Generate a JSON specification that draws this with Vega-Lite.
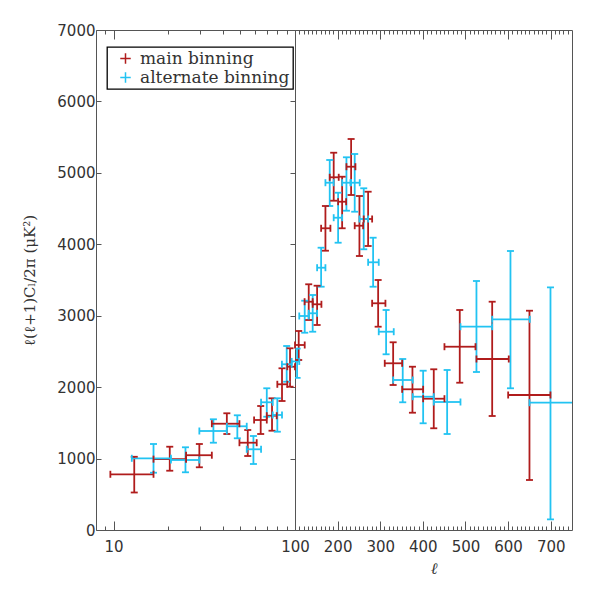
{
  "$schema": "https://vega.github.io/schema/vega-lite/v6.json",
  "autosize": {"type": "pad"},
  "padding": {"left": 22, "top": 22, "right": 5, "bottom": 5},
  "background": "white",
  "bounds": "flush",
  "config": {
    "view": {"stroke": "#555", "strokeWidth": 1},
    "axis": {"labelFont": "DejaVu Sans", "labelFontSize": 15, "labelColor": "#333", "tickColor": "#555", "tickWidth": 1, "domain": false, "grid": false, "titleFontWeight": "normal", "titleColor": "#333", "labelFlush": false, "labelOverlap": false},
    "legend": {"orient": "none", "legendX": 11, "legendY": 17, "strokeColor": "#000", "strokeWidth": 1.3, "fillColor": "white", "padding": 3, "symbolOffset": 7, "cornerRadius": 0, "labelFont": "DejaVu Serif", "labelFontSize": 17, "labelColor": "#333", "symbolType": "M-1,0L1,0M0,-1L0,1", "symbolSize": 110, "symbolStrokeWidth": 1.5, "rowPadding": 1, "labelOffset": 6, "title": null}
  },
  "data": {"name": "pts", "values": [
    {"s": "main binning", "l": 13.0, "llo": 9.6, "lhi": 16.6, "v": 780, "lo": 525, "hi": 1025},
    {"s": "main binning", "l": 20.4, "llo": 16.6, "lhi": 25.1, "v": 992, "lo": 830, "hi": 1166},
    {"s": "main binning", "l": 29.7, "llo": 25.1, "lhi": 34.8, "v": 1047, "lo": 878, "hi": 1204},
    {"s": "main binning", "l": 42.1, "llo": 34.8, "lhi": 49.4, "v": 1488, "lo": 1344, "hi": 1634},
    {"s": "main binning", "l": 54.9, "llo": 49.4, "lhi": 61.5, "v": 1222, "lo": 1036, "hi": 1400},
    {"s": "main binning", "l": 64.7, "llo": 59.5, "lhi": 69.9, "v": 1540, "lo": 1344, "hi": 1736},
    {"s": "main binning", "l": 74.7, "llo": 69.9, "lhi": 79.3, "v": 1600, "lo": 1390, "hi": 1844},
    {"s": "main binning", "l": 84.8, "llo": 79.9, "lhi": 90.7, "v": 2040, "lo": 1806, "hi": 2264},
    {"s": "main binning", "l": 93.9, "llo": 90.7, "lhi": 100, "v": 2286, "lo": 2006, "hi": 2544},
    {"s": "main binning", "l": 108.7, "llo": 100, "lhi": 122.8, "v": 2590, "lo": 2380, "hi": 2786},
    {"s": "main binning", "l": 132.2, "llo": 122.5, "lhi": 141.5, "v": 3196, "lo": 2940, "hi": 3440},
    {"s": "main binning", "l": 151.9, "llo": 141.5, "lhi": 162, "v": 3160, "lo": 2870, "hi": 3420},
    {"s": "main binning", "l": 171.4, "llo": 161.3, "lhi": 183.1, "v": 4224, "lo": 3910, "hi": 4536},
    {"s": "main binning", "l": 190.8, "llo": 181.5, "lhi": 202.6, "v": 4938, "lo": 4610, "hi": 5282},
    {"s": "main binning", "l": 210.6, "llo": 201.2, "lhi": 220, "v": 4596, "lo": 4224, "hi": 4946},
    {"s": "main binning", "l": 231.7, "llo": 220.7, "lhi": 241.8, "v": 5086, "lo": 4690, "hi": 5474},
    {"s": "main binning", "l": 251.2, "llo": 240.1, "lhi": 259.9, "v": 4260, "lo": 3836, "hi": 4676},
    {"s": "main binning", "l": 271.6, "llo": 261.3, "lhi": 281, "v": 4354, "lo": 3976, "hi": 4736},
    {"s": "main binning", "l": 295.1, "llo": 281, "lhi": 312.2, "v": 3174, "lo": 2846, "hi": 3500},
    {"s": "main binning", "l": 330.3, "llo": 310.6, "lhi": 351.4, "v": 2334, "lo": 2030, "hi": 2628},
    {"s": "main binning", "l": 375.6, "llo": 351.4, "lhi": 400.7, "v": 1970, "lo": 1642, "hi": 2286},
    {"s": "main binning", "l": 425.6, "llo": 400.7, "lhi": 450.7, "v": 1838, "lo": 1424, "hi": 2250},
    {"s": "main binning", "l": 486.6, "llo": 450.7, "lhi": 523.5, "v": 2566, "lo": 2062, "hi": 3080},
    {"s": "main binning", "l": 562.7, "llo": 525.8, "lhi": 601.6, "v": 2394, "lo": 1596, "hi": 3196},
    {"s": "main binning", "l": 650.2, "llo": 600.2, "lhi": 699.5, "v": 1890, "lo": 700, "hi": 3070},
    {"s": "alternate binning", "l": 16.6, "llo": 12.6, "lhi": 20.7, "v": 1004, "lo": 802, "hi": 1204},
    {"s": "alternate binning", "l": 24.9, "llo": 20.7, "lhi": 29.7, "v": 980, "lo": 808, "hi": 1158},
    {"s": "alternate binning", "l": 35.5, "llo": 29.7, "lhi": 42.1, "v": 1386, "lo": 1222, "hi": 1550},
    {"s": "alternate binning", "l": 48.1, "llo": 42.1, "lhi": 54.2, "v": 1452, "lo": 1284, "hi": 1606},
    {"s": "alternate binning", "l": 59.0, "llo": 54.2, "lhi": 65.0, "v": 1130, "lo": 924, "hi": 1316},
    {"s": "alternate binning", "l": 69.9, "llo": 65.0, "lhi": 75.4, "v": 1788, "lo": 1586, "hi": 1984},
    {"s": "alternate binning", "l": 79.9, "llo": 75.4, "lhi": 84.8, "v": 1610, "lo": 1376, "hi": 1844},
    {"s": "alternate binning", "l": 90.0, "llo": 84.7, "lhi": 95.9, "v": 2320, "lo": 2076, "hi": 2576},
    {"s": "alternate binning", "l": 104.9, "llo": 95.9, "lhi": 110, "v": 2360, "lo": 2130, "hi": 2540},
    {"s": "alternate binning", "l": 122.8, "llo": 110, "lhi": 132.2, "v": 2996, "lo": 2762, "hi": 3210},
    {"s": "alternate binning", "l": 141.5, "llo": 132.2, "lhi": 151.9, "v": 3034, "lo": 2776, "hi": 3290},
    {"s": "alternate binning", "l": 161.3, "llo": 151.9, "lhi": 171.4, "v": 3672, "lo": 3406, "hi": 3952},
    {"s": "alternate binning", "l": 181.5, "llo": 171.4, "lhi": 190.8, "v": 4862, "lo": 4536, "hi": 5180},
    {"s": "alternate binning", "l": 201.2, "llo": 190.8, "lhi": 210.6, "v": 4372, "lo": 4022, "hi": 4722},
    {"s": "alternate binning", "l": 220.7, "llo": 210.6, "lhi": 230, "v": 4862, "lo": 4470, "hi": 5218},
    {"s": "alternate binning", "l": 240.1, "llo": 231.7, "lhi": 251.9, "v": 4862, "lo": 4456, "hi": 5264},
    {"s": "alternate binning", "l": 261.3, "llo": 251.2, "lhi": 271.6, "v": 4354, "lo": 3930, "hi": 4784},
    {"s": "alternate binning", "l": 283.3, "llo": 271.6, "lhi": 296.5, "v": 3748, "lo": 3406, "hi": 4092},
    {"s": "alternate binning", "l": 313.8, "llo": 296.5, "lhi": 331.7, "v": 2776, "lo": 2460, "hi": 3080},
    {"s": "alternate binning", "l": 352.8, "llo": 330.3, "lhi": 376.3, "v": 2100, "lo": 1788, "hi": 2394},
    {"s": "alternate binning", "l": 400.7, "llo": 376.3, "lhi": 425.6, "v": 1866, "lo": 1494, "hi": 2230},
    {"s": "alternate binning", "l": 457, "llo": 425.6, "lhi": 488.3, "v": 1792, "lo": 1344, "hi": 2240},
    {"s": "alternate binning", "l": 525.8, "llo": 488.3, "lhi": 562.7, "v": 2846, "lo": 2212, "hi": 3486},
    {"s": "alternate binning", "l": 605.6, "llo": 562.7, "lhi": 651, "v": 2950, "lo": 1984, "hi": 3906},
    {"s": "alternate binning", "l": 699.5, "llo": 650.2, "lhi": 760, "v": 1782, "lo": 150, "hi": 3398}
  ]},
  "spacing": 0,
  "resolve": {"scale": {"x": "independent", "y": "independent"}, "legend": {"color": "shared"}},
  "hconcat": [
    {
      "width": 199,
      "height": 500,
      "resolve": {"axis": {"x": "independent", "y": "independent"}},
      "layer": [
        {
          "mark": {"type": "rule", "clip": true, "strokeWidth": 1.8},
          "encoding": {
            "x": {"field": "l", "type": "quantitative", "scale": {"type": "log", "domain": [8, 100], "nice": false}, "axis": {"orient": "bottom", "values": [10, 100], "format": "d", "tickSize": -9, "labelPadding": 18, "title": null}},
            "y": {"field": "lo", "type": "quantitative", "scale": {"domain": [0, 7000], "nice": false, "zero": false}, "axis": null},
            "y2": {"field": "hi"},
            "color": {"field": "s", "type": "nominal", "scale": {"domain": ["main binning", "alternate binning"], "range": ["#b01c1c", "#22c3f2"]}}
          }
        },
        {
          "mark": {"type": "rule", "clip": true, "strokeWidth": 1.8},
          "encoding": {
            "x": {"field": "llo", "type": "quantitative", "scale": {"type": "log", "domain": [8, 100], "nice": false}, "axis": {"orient": "bottom", "values": [9, 20, 30, 40, 50, 60, 70, 80, 90], "tickSize": -4, "labels": false, "title": null}},
            "x2": {"field": "lhi"},
            "y": {"field": "v", "type": "quantitative", "scale": {"domain": [0, 7000], "nice": false, "zero": false}, "axis": {"orient": "left", "values": [0, 1000, 2000, 3000, 4000, 5000, 6000, 7000], "format": "d", "tickSize": -5, "labelPadding": 6, "title": "ℓ(ℓ+1)Cₗ/2π  (μK²)", "titleFont": "DejaVu Serif", "titleFontSize": 15, "titlePadding": 19}},
            "color": {"field": "s", "type": "nominal", "scale": {"domain": ["main binning", "alternate binning"], "range": ["#b01c1c", "#22c3f2"]}}
          }
        },
        {
          "mark": {"type": "tick", "orient": "horizontal", "clip": true, "size": 7, "thickness": 1.8, "opacity": 1},
          "encoding": {
            "x": {"field": "l", "type": "quantitative", "scale": {"type": "log", "domain": [8, 100], "nice": false}, "axis": {"orient": "top", "values": [10, 100], "tickSize": -9, "labels": false, "title": null}},
            "y": {"field": "lo", "type": "quantitative", "scale": {"domain": [0, 7000], "nice": false, "zero": false}, "axis": {"orient": "right", "values": [1000, 2000, 3000, 4000, 5000, 6000], "tickSize": -5, "labels": false, "title": null}},
            "color": {"field": "s", "type": "nominal", "scale": {"domain": ["main binning", "alternate binning"], "range": ["#b01c1c", "#22c3f2"]}}
          }
        },
        {
          "mark": {"type": "tick", "orient": "horizontal", "clip": true, "size": 7, "thickness": 1.8, "opacity": 1},
          "encoding": {
            "x": {"field": "l", "type": "quantitative", "scale": {"type": "log", "domain": [8, 100], "nice": false}, "axis": {"orient": "top", "values": [9, 20, 30, 40, 50, 60, 70, 80, 90], "tickSize": -4, "labels": false, "title": null}},
            "y": {"field": "hi", "type": "quantitative", "scale": {"domain": [0, 7000], "nice": false, "zero": false}, "axis": null},
            "color": {"field": "s", "type": "nominal", "scale": {"domain": ["main binning", "alternate binning"], "range": ["#b01c1c", "#22c3f2"]}}
          }
        },
        {
          "mark": {"type": "tick", "orient": "vertical", "clip": true, "size": 7, "thickness": 1.8, "opacity": 1},
          "encoding": {
            "x": {"field": "llo", "type": "quantitative", "scale": {"type": "log", "domain": [8, 100], "nice": false}, "axis": null},
            "y": {"field": "v", "type": "quantitative", "scale": {"domain": [0, 7000], "nice": false, "zero": false}, "axis": null},
            "color": {"field": "s", "type": "nominal", "scale": {"domain": ["main binning", "alternate binning"], "range": ["#b01c1c", "#22c3f2"]}}
          }
        },
        {
          "mark": {"type": "tick", "orient": "vertical", "clip": true, "size": 7, "thickness": 1.8, "opacity": 1},
          "encoding": {
            "x": {"field": "lhi", "type": "quantitative", "scale": {"type": "log", "domain": [8, 100], "nice": false}, "axis": null},
            "y": {"field": "v", "type": "quantitative", "scale": {"domain": [0, 7000], "nice": false, "zero": false}, "axis": null},
            "color": {"field": "s", "type": "nominal", "scale": {"domain": ["main binning", "alternate binning"], "range": ["#b01c1c", "#22c3f2"]}}
          }
        }
      ]
    },
    {
      "width": 277,
      "height": 500,
      "resolve": {"axis": {"x": "independent", "y": "independent"}},
      "layer": [
        {
          "mark": {"type": "rule", "clip": true, "strokeWidth": 1.8},
          "encoding": {
            "x": {"field": "l", "type": "quantitative", "scale": {"domain": [100, 750], "nice": false, "zero": false}, "axis": {"orient": "bottom", "values": [200, 300, 400, 500, 600, 700], "format": "d", "tickSize": -9, "labelPadding": 18, "title": "ℓ", "titleFont": "DejaVu Serif", "titleFontStyle": "italic", "titleFontSize": 16, "titlePadding": 6}},
            "y": {"field": "lo", "type": "quantitative", "scale": {"domain": [0, 7000], "nice": false, "zero": false}, "axis": null},
            "y2": {"field": "hi"},
            "color": {"field": "s", "type": "nominal", "scale": {"domain": ["main binning", "alternate binning"], "range": ["#b01c1c", "#22c3f2"]}}
          }
        },
        {
          "mark": {"type": "rule", "clip": true, "strokeWidth": 1.8},
          "encoding": {
            "x": {"field": "llo", "type": "quantitative", "scale": {"domain": [100, 750], "nice": false, "zero": false}, "axis": {"orient": "bottom", "values": [110, 120, 130, 140, 150, 160, 170, 180, 190, 210, 220, 230, 240, 250, 260, 270, 280, 290, 310, 320, 330, 340, 350, 360, 370, 380, 390, 410, 420, 430, 440, 450, 460, 470, 480, 490, 510, 520, 530, 540, 550, 560, 570, 580, 590, 610, 620, 630, 640, 650, 660, 670, 680, 690, 710, 720, 730, 740], "tickSize": -4, "labels": false, "title": null}},
            "x2": {"field": "lhi"},
            "y": {"field": "v", "type": "quantitative", "scale": {"domain": [0, 7000], "nice": false, "zero": false}, "axis": null},
            "color": {"field": "s", "type": "nominal", "scale": {"domain": ["main binning", "alternate binning"], "range": ["#b01c1c", "#22c3f2"]}}
          }
        },
        {
          "mark": {"type": "tick", "orient": "horizontal", "clip": true, "size": 7, "thickness": 1.8, "opacity": 1},
          "encoding": {
            "x": {"field": "l", "type": "quantitative", "scale": {"domain": [100, 750], "nice": false, "zero": false}, "axis": {"orient": "top", "values": [200, 300, 400, 500, 600, 700], "tickSize": -9, "labels": false, "title": null}},
            "y": {"field": "lo", "type": "quantitative", "scale": {"domain": [0, 7000], "nice": false, "zero": false}, "axis": null},
            "color": {"field": "s", "type": "nominal", "scale": {"domain": ["main binning", "alternate binning"], "range": ["#b01c1c", "#22c3f2"]}}
          }
        },
        {
          "mark": {"type": "tick", "orient": "horizontal", "clip": true, "size": 7, "thickness": 1.8, "opacity": 1},
          "encoding": {
            "x": {"field": "l", "type": "quantitative", "scale": {"domain": [100, 750], "nice": false, "zero": false}, "axis": {"orient": "top", "values": [110, 120, 130, 140, 150, 160, 170, 180, 190, 210, 220, 230, 240, 250, 260, 270, 280, 290, 310, 320, 330, 340, 350, 360, 370, 380, 390, 410, 420, 430, 440, 450, 460, 470, 480, 490, 510, 520, 530, 540, 550, 560, 570, 580, 590, 610, 620, 630, 640, 650, 660, 670, 680, 690, 710, 720, 730, 740], "tickSize": -4, "labels": false, "title": null}},
            "y": {"field": "hi", "type": "quantitative", "scale": {"domain": [0, 7000], "nice": false, "zero": false}, "axis": null},
            "color": {"field": "s", "type": "nominal", "scale": {"domain": ["main binning", "alternate binning"], "range": ["#b01c1c", "#22c3f2"]}}
          }
        },
        {
          "mark": {"type": "tick", "orient": "vertical", "clip": true, "size": 7, "thickness": 1.8, "opacity": 1},
          "encoding": {
            "x": {"field": "llo", "type": "quantitative", "scale": {"domain": [100, 750], "nice": false, "zero": false}, "axis": null},
            "y": {"field": "v", "type": "quantitative", "scale": {"domain": [0, 7000], "nice": false, "zero": false}, "axis": null},
            "color": {"field": "s", "type": "nominal", "scale": {"domain": ["main binning", "alternate binning"], "range": ["#b01c1c", "#22c3f2"]}}
          }
        },
        {
          "mark": {"type": "tick", "orient": "vertical", "clip": true, "size": 7, "thickness": 1.8, "opacity": 1},
          "encoding": {
            "x": {"field": "lhi", "type": "quantitative", "scale": {"domain": [100, 750], "nice": false, "zero": false}, "axis": null},
            "y": {"field": "v", "type": "quantitative", "scale": {"domain": [0, 7000], "nice": false, "zero": false}, "axis": null},
            "color": {"field": "s", "type": "nominal", "scale": {"domain": ["main binning", "alternate binning"], "range": ["#b01c1c", "#22c3f2"]}}
          }
        }
      ]
    }
  ]
}
